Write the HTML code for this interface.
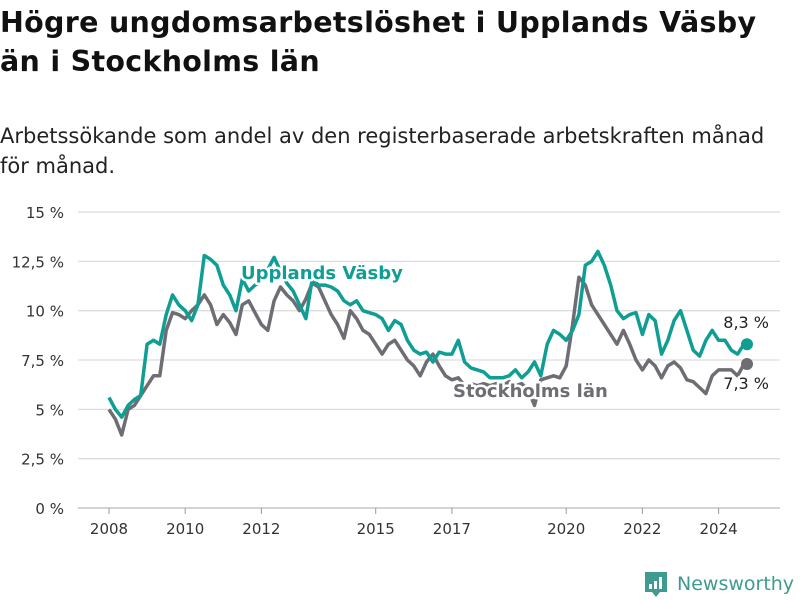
<!DOCTYPE html>
<html><head><meta charset="utf-8"><style>
body{margin:0;width:800px;height:600px;background:#fff;font-family:"DejaVu Sans","Liberation Sans",sans-serif;overflow:hidden;position:relative}
h1{position:absolute;left:0;top:3px;margin:0;font-size:28.5px;line-height:39px;font-weight:bold;color:#111;letter-spacing:0.3px}
.sub{position:absolute;left:0;top:121px;font-size:21px;line-height:30px;color:#222}
svg{position:absolute;left:0;top:0}
</style></head><body>
<h1>Högre ungdomsarbetslöshet i Upplands Väsby<br>än i Stockholms län</h1>
<div class="sub">Arbetssökande som andel av den registerbaserade arbetskraften månad<br>för månad.</div>
<svg id="chart" width="800" height="600"></svg>
<script>
const years=[2008,2010,2012,2015,2017,2020,2022,2024];
const yTicks=[0,2.5,5,7.5,10,12.5,15];
const yTickLabels=["0 %","2,5 %","5 %","7,5 %","10 %","12,5 %","15 %"];
const startYear=2008, stepYears=1/6;
const vasby=[5.6,5.0,4.6,5.2,5.5,5.7,8.3,8.5,8.3,9.8,10.8,10.3,10.0,9.5,10.3,12.8,12.6,12.3,11.3,10.8,10.0,11.6,11.0,11.3,11.5,12.1,12.7,12.0,11.4,11.0,10.3,9.6,11.6,11.3,11.3,11.2,11.0,10.5,10.3,10.5,10.0,9.9,9.8,9.6,9.0,9.5,9.3,8.5,8.0,7.8,7.9,7.4,7.9,7.8,7.8,8.5,7.4,7.1,7.0,6.9,6.6,6.6,6.6,6.7,7.0,6.6,6.9,7.4,6.7,8.3,9.0,8.8,8.5,9.0,9.8,12.3,12.5,13.0,12.3,11.3,10.0,9.6,9.8,9.9,8.8,9.8,9.5,7.8,8.5,9.5,10.0,9.0,8.0,7.7,8.5,9.0,8.5,8.5,8.0,7.8,8.3];
const sthlm=[5.0,4.5,3.7,5.0,5.2,5.7,6.2,6.7,6.7,9.0,9.9,9.8,9.6,10.0,10.3,10.8,10.3,9.3,9.8,9.4,8.8,10.3,10.5,9.9,9.3,9.0,10.5,11.2,10.8,10.5,10.0,10.6,11.4,11.2,10.5,9.8,9.3,8.6,10.0,9.6,9.0,8.8,8.3,7.8,8.3,8.5,8.0,7.5,7.2,6.7,7.4,7.8,7.2,6.7,6.5,6.6,6.2,6.3,6.2,6.3,6.2,6.3,6.2,6.4,6.2,6.3,6.0,5.2,6.5,6.6,6.7,6.6,7.2,9.3,11.7,11.3,10.3,9.8,9.3,8.8,8.3,9.0,8.3,7.5,7.0,7.5,7.2,6.6,7.2,7.4,7.1,6.5,6.4,6.1,5.8,6.7,7.0,7.0,7.0,6.7,7.3];
const svg=document.getElementById('chart');
const NS='http://www.w3.org/2000/svg';
const x=t=>109+(t-2008)*38.1;
const y=v=>508-v*19.73;
function mk(tag,attrs,parent){const e=document.createElementNS(NS,tag);for(const k in attrs)e.setAttribute(k,attrs[k]);(parent||svg).appendChild(e);return e;}
yTicks.forEach((v,i)=>{
  const l=mk('line',{x1:78,x2:780,y1:y(v),y2:y(v),stroke:v===0?'#bbb':'#ddd','stroke-width':1.3});
  
  
  const t=mk('text',{x:64,y:y(v)+6,'text-anchor':'end','font-size':15,fill:'#333'});
  t.textContent=yTickLabels[i];
  
  
});
years.forEach(yr=>{
  const tk=mk('line',{x1:x(yr),x2:x(yr),y1:508,y2:514,stroke:'#999','stroke-width':1});
  
  
  const t=mk('text',{x:x(yr),y:534,'text-anchor':'middle','font-size':15,fill:'#333'});
  t.textContent=yr;
  
  
});
function line(data,color,name){
  const d=data.map((v,i)=>(i?'L':'M')+x(startYear+i*stepYears).toFixed(1)+' '+y(v).toFixed(1)).join(' ');
  const p=mk('path',{d:d,fill:'none',stroke:color,'stroke-width':3.5,'stroke-linejoin':'round'});
  
  
  const n=data.length-1;
  const c=mk('circle',{cx:x(startYear+n*stepYears)+3,cy:y(data[n]),r:6,fill:color});
  
  
}
line(sthlm,'#6e6d73','stockholm-line');
line(vasby,'#0f9e94','vasby-line');
function label(txt,lx,ly,color,size,bold,name,anchor){
  const t=mk('text',{x:lx,y:ly,'font-size':size,'font-weight':bold?'bold':'normal',fill:color,stroke:'#fff','stroke-width':5,'paint-order':'stroke','text-anchor':anchor||'start','stroke-linejoin':'round'});
  t.textContent=txt;
  
  
}
label('Upplands Väsby',241,279,'#0f9e94',18,true,'vasby-label');
label('Stockholms län',453,397,'#6e6d73',18,true,'stockholm-label');
label('8,3 %',769,328,'#222',16,false,'vasby-end-value','end');
label('7,3 %',769,389,'#222',16,false,'stockholm-end-value','end');
const g=mk('g',{});


mk('path',{d:'M645 572 h22 v20 h-7 l-4 5 l-4 -5 h-7 z',fill:'#3f9a8f'},g);
mk('rect',{x:649,y:584,width:3,height:5,fill:'#fff'},g);
mk('rect',{x:654,y:581,width:3,height:8,fill:'#fff'},g);
mk('rect',{x:659,y:577,width:3,height:12,fill:'#fff'},g);
const lt=mk('text',{x:677,y:590,'font-size':19,fill:'#3f9a8f'},g);
lt.textContent='Newsworthy';
</script>
</body></html>
